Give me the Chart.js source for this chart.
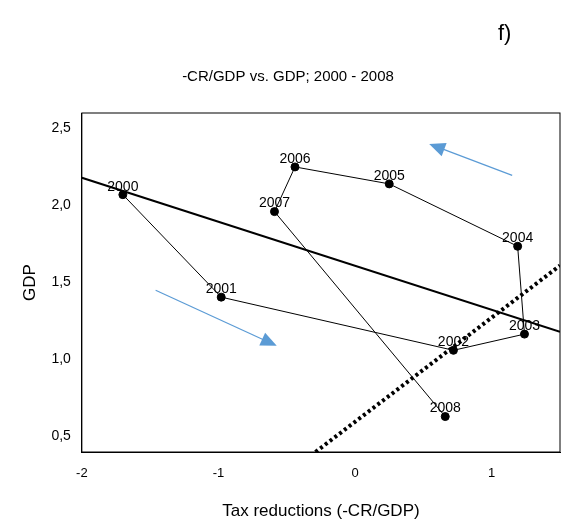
<!DOCTYPE html>
<html>
<head>
<meta charset="utf-8">
<script src="https://cdn.jsdelivr.net/npm/chart.js@4"></script>
<style>
  body { margin: 0; background: #fff; font-family: "Liberation Sans", Arial, sans-serif; }
  #wrap { position: relative; width: 566px; height: 528px; }
  #panel { position: absolute; left: 498px; top: 20px; font-size: 22px; }
</style>
</head>
<body>
<div id="wrap">
  <div id="panel">f)</div>
  <canvas id="chart" width="566" height="528"></canvas>
</div>
<script>
const years = ['2000', '2001', '2002', '2003', '2004', '2005', '2006', '2007', '2008'];
const taxRed = [-1.70, -0.98, 0.72, 1.24, 1.19, 0.25, -0.44, -0.59, 0.66];
const gdp = [2.07, 1.405, 1.06, 1.165, 1.735, 2.14, 2.25, 1.96, 0.63];
const solidLine = [{ x: -2, y: 2.18 }, { x: 1.5, y: 1.18 }];
const dottedLine = [{ x: -0.29, y: 0.4 }, { x: 1.5, y: 1.61 }];
const arrows = [
  [{ x: 1.15, y: 2.195 }, { x: 0.57, y: 2.39 }],
  [{ x: -1.46, y: 1.45 }, { x: -0.60, y: 1.10 }]
];

const points = taxRed.map((x, i) => ({ x: x, y: gdp[i] }));

const labelsPlugin = {
  id: 'labels',
  afterDatasetsDraw(chart) {
    const { ctx, scales: { x, y } } = chart;
    ctx.save();
    ctx.font = '14px "Liberation Sans", Arial';
    ctx.fillStyle = '#000';
    ctx.textAlign = 'center';
    ctx.textBaseline = 'bottom';
    points.forEach((p, i) => {
      ctx.fillText(years[i], x.getPixelForValue(p.x), y.getPixelForValue(p.y) - 1);
    });
    // arrows
    ctx.strokeStyle = '#5b9bd5';
    ctx.fillStyle = '#5b9bd5';
    ctx.lineWidth = 1.2;
    arrows.forEach(a => {
      const x0 = x.getPixelForValue(a[0].x), y0 = y.getPixelForValue(a[0].y);
      const x1 = x.getPixelForValue(a[1].x), y1 = y.getPixelForValue(a[1].y);
      const ang = Math.atan2(y1 - y0, x1 - x0);
      ctx.beginPath();
      ctx.moveTo(x0, y0);
      ctx.lineTo(x1 - 10 * Math.cos(ang), y1 - 10 * Math.sin(ang));
      ctx.stroke();
      ctx.beginPath();
      ctx.moveTo(x1 + 4 * Math.cos(ang), y1 + 4 * Math.sin(ang));
      ctx.lineTo(x1 - 12 * Math.cos(ang) - 7 * Math.sin(ang), y1 - 12 * Math.sin(ang) + 7 * Math.cos(ang));
      ctx.lineTo(x1 - 12 * Math.cos(ang) + 7 * Math.sin(ang), y1 - 12 * Math.sin(ang) - 7 * Math.cos(ang));
      ctx.closePath();
      ctx.fill();
    });
    ctx.restore();
  }
};

const borderPlugin = {
  id: 'border',
  afterDraw(chart) {
    const { ctx, chartArea: a } = chart;
    ctx.save();
    ctx.strokeStyle = '#000';
    ctx.lineWidth = 1;
    ctx.strokeRect(a.left, a.top, a.right - a.left, a.bottom - a.top);
    ctx.restore();
  }
};

new Chart(document.getElementById('chart'), {
  type: 'scatter',
  data: {
    datasets: [
      {
        data: points, showLine: true, borderColor: '#000', borderWidth: 1,
        pointRadius: 4, pointBackgroundColor: '#000', pointBorderColor: '#000'
      },
      { data: solidLine, showLine: true, borderColor: '#000', borderWidth: 2.2, pointRadius: 0 },
      { data: dottedLine, showLine: true, borderColor: '#000', borderWidth: 4, borderDash: [3, 3], pointRadius: 0 }
    ]
  },
  options: {
    responsive: false,
    animation: false,
    layout: { padding: { left: 16, right: 6, top: 68, bottom: 2 } },
    plugins: {
      legend: { display: false },
      tooltip: { enabled: false },
      title: {
        display: true, text: '-CR/GDP vs. GDP; 2000 - 2008', color: '#000',
        font: { family: '"Liberation Sans", Arial', size: 15, weight: 'normal' },
        padding: { top: 0, bottom: 27 }
      }
    },
    scales: {
      x: {
        min: -2, max: 1.5,
        grid: { display: false, drawTicks: true },
        border: { color: '#000' },
        ticks: { stepSize: 1, color: '#000', font: { family: '"Liberation Sans", Arial', size: 13 },
                 padding: 6,
                 callback: v => Number.isInteger(v) ? String(v) : '' },
        title: { display: true, text: 'Tax reductions (-CR/GDP)', color: '#000',
                 font: { family: '"Liberation Sans", Arial', size: 17 }, padding: { top: 14 } }
      },
      y: {
        min: 0.4, max: 2.6,
        afterBuildTicks: s => { s.ticks = [0.5, 1, 1.5, 2, 2.5].map(v => ({ value: v })); },
        grid: { display: false },
        border: { color: '#000' },
        ticks: { color: '#000', font: { family: '"Liberation Sans", Arial', size: 14 },
                 callback: v => v.toFixed(1).replace('.', ',') },
        title: { display: true, text: 'GDP', color: '#000',
                 font: { family: '"Liberation Sans", Arial', size: 17 }, padding: { bottom: 8 } }
      }
    }
  },
  plugins: [labelsPlugin, borderPlugin]
});
</script>
</body>
</html>
